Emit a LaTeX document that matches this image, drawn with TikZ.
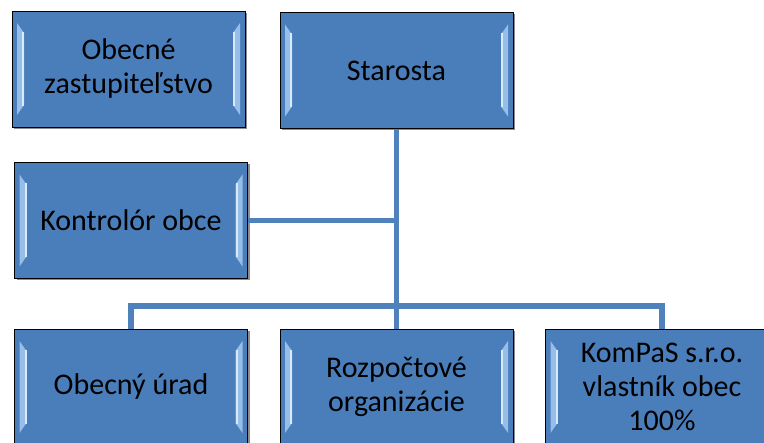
\documentclass[tikz,border=0pt]{standalone}
\usepackage{fontspec}
\setmainfont{Carlito}
\usetikzlibrary{shadows}
\definecolor{boxblue}{RGB}{74,126,187}
\definecolor{linkblue}{RGB}{79,129,189}
\definecolor{bevel}{RGB}{150,190,232}
\definecolor{bevelhi}{RGB}{215,235,252}
\tikzset{
  box/.style={draw=black, line width=0.9pt, fill=boxblue,
    minimum width=233pt, minimum height=116pt, inner sep=0pt,
    align=center, text=black, font=\fontsize{30}{34}\selectfont,
    drop shadow={shadow xshift=2pt, shadow yshift=-2pt, opacity=0.45, fill=black},
    path picture={
      \fill[bevel]
        ([shift={(5pt,-12pt)}]path picture bounding box.north west) --
        ([shift={(12pt,-22pt)}]path picture bounding box.north west) --
        ([shift={(12pt,22pt)}]path picture bounding box.south west) --
        ([shift={(5pt,12pt)}]path picture bounding box.south west) -- cycle;
      \draw[bevelhi, line width=2pt]
        ([shift={(11pt,-21pt)}]path picture bounding box.north west) --
        ([shift={(11pt,21pt)}]path picture bounding box.south west);
      \fill[bevel]
        ([shift={(-5pt,-12pt)}]path picture bounding box.north east) --
        ([shift={(-12pt,-22pt)}]path picture bounding box.north east) --
        ([shift={(-12pt,22pt)}]path picture bounding box.south east) --
        ([shift={(-5pt,12pt)}]path picture bounding box.south east) -- cycle;
      \draw[bevelhi, line width=2pt]
        ([shift={(-11pt,-21pt)}]path picture bounding box.north east) --
        ([shift={(-11pt,21pt)}]path picture bounding box.south east);
    }},
  link/.style={draw=linkblue, line width=5.5pt}
}
\begin{document}
\begin{tikzpicture}[x=1pt,y=-1pt]
\useasboundingbox (0,0) rectangle (764,443);
\fill[white] (0,0) rectangle (764,443);
\clip (0,0) rectangle (764,443);
\node[box] (oz) at (128.5,69) {Obecné\\zastupiteľstvo};
\node[box] (st) at (396.5,70.5) {Starosta};
\node[box] (ko) at (131,220.5) {Kontrolór obce};
\node[box] (ou) at (131,387) {Obecný úrad};
\node[box] (ro) at (396.5,387) {Rozpočtové\\organizácie};
\node[box] (km) at (662,387) {KomPaS s.r.o.\\vlastník obec\\100\%};
\coordinate (bus) at (st.south |- 0,306);
\coordinate (kj) at (st.south |- ko.east);
\draw[link] (st.south) -- (bus);
\draw[link] (ko.east) -- (kj);
\draw[link] (ou.north) -- (ou.north |- bus) -- (km.north |- bus) -- (km.north);
\draw[link] (bus) -- (ro.north);
\end{tikzpicture}
\end{document}
